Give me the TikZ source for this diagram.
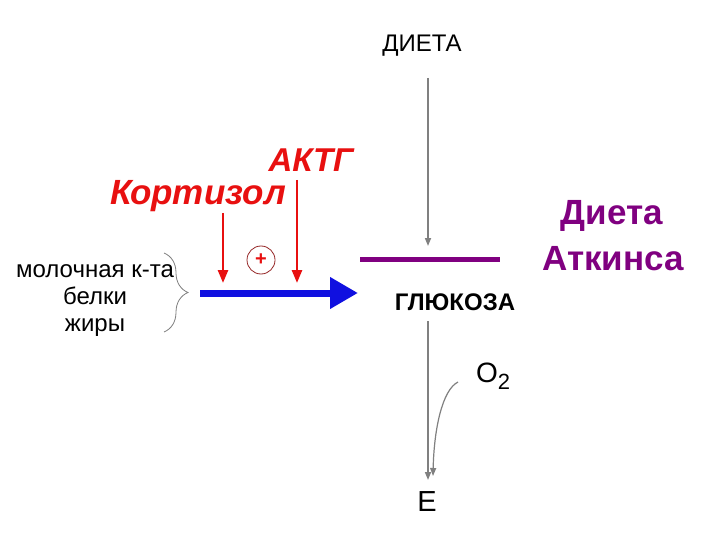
\documentclass[tikz,border=0pt]{standalone}
\usepackage{fontspec}
\setmainfont{Liberation Sans}
\usetikzlibrary{arrows.meta,decorations.pathreplacing}
\definecolor{atk}{RGB}{128,0,128}
\definecolor{grl}{RGB}{128,128,128}
\definecolor{rdl}{RGB}{232,16,16}
\definecolor{bll}{RGB}{16,16,224}
\definecolor{drd}{RGB}{150,40,40}
\begin{document}
\begin{tikzpicture}[x=1pt,y=-1pt,
  lbl/.style={inner sep=0pt,anchor=base},
  grayarrow/.style={draw=grl,line width=1.6pt,-{Triangle[length=8pt,width=6pt]}},
  redarrow/.style={draw=rdl,line width=2.6pt,-{Triangle[length=13pt,width=10pt]}},
  redtitle/.style={lbl,text=rdl,font=\fontsize{35}{40}\selectfont\bfseries\itshape}]
\useasboundingbox (0,0) rectangle (720,540);
\fill[white] (0,0) rectangle (720,540);

% texts
\node[lbl,font=\fontsize{24}{28}\selectfont] (dieta) at (422,52) {ДИЕТА};
\node[lbl,text=atk,font=\fontsize{35}{40}\selectfont\bfseries] (atkins) at (612,225) {Диета};
\node[lbl,text=atk,font=\fontsize{35}{40}\selectfont\bfseries] (atkins2) at (613,270) {Аткинса};
\node[lbl,font=\fontsize{24}{28}\selectfont\bfseries] (gluc) at (455,310) {ГЛЮКОЗА};
\node[redtitle] (kort) at (198,205) {Кортизол};
\node[redtitle,font=\fontsize{33}{38}\selectfont\bfseries\itshape] (aktg) at (311,172) {АКТГ};
\node[lbl,font=\fontsize{24}{28}\selectfont] (src1) at (95,277) {молочная к-та};
\node[lbl,font=\fontsize{24}{28}\selectfont] (src2) at (95,304) {белки};
\node[lbl,font=\fontsize{24}{28}\selectfont] (src3) at (95,331) {жиры};
\node[lbl,font=\fontsize{28}{32}\selectfont,anchor=base west] (o2) at (476,382) {O\raisebox{-7pt}{\fontsize{22}{22}\selectfont 2}};
\node[lbl,font=\fontsize{29}{32}\selectfont] (en) at (427,511) {E};

% plus circle
\node[circle,draw=drd,line width=0.8pt,minimum size=28pt,inner sep=0pt,
  text=rdl,font=\fontsize{20}{20}\selectfont\bfseries] (plus) at (261,260) {+};

% coordinates
\coordinate (dtop) at (428,78);
\coordinate (dbot) at (428,246);
\coordinate (barL) at (360,259);
\coordinate (barR) at (500,259);
\coordinate (gtop) at (428,321);
\coordinate (gbot) at (428,480);
\coordinate (o2s) at (458,382);
\coordinate (o2e) at (433,476);
\coordinate (bA) at (200,293);
\coordinate (bB) at (358,293);
\coordinate (k1) at (223,213);
\coordinate (k1e) at (223,283);
\coordinate (k2) at (297,180);
\coordinate (k2e) at (297,283);
\coordinate (brT) at (164,253);
\coordinate (brB) at (164,332);

% connectors
\draw[grayarrow] (dtop) -- (dbot);
\draw[atk,line width=5pt] (barL) -- (barR);
\draw[grayarrow] (gtop) -- (gbot);
\draw[grayarrow,line width=1.2pt] (o2s) .. controls (442,390) and (434,430) .. (o2e);
\draw[bll,line width=7pt,-{Triangle[length=28pt,width=30pt]}] (bA) -- (bB);
\draw[redarrow] (k1) -- (k1e);
\draw[redarrow] (k2) -- (k2e);
\draw[grl,line width=0.8pt,decorate,decoration={brace,amplitude=24pt}] (brT) -- (brB);
\end{tikzpicture}
\end{document}
